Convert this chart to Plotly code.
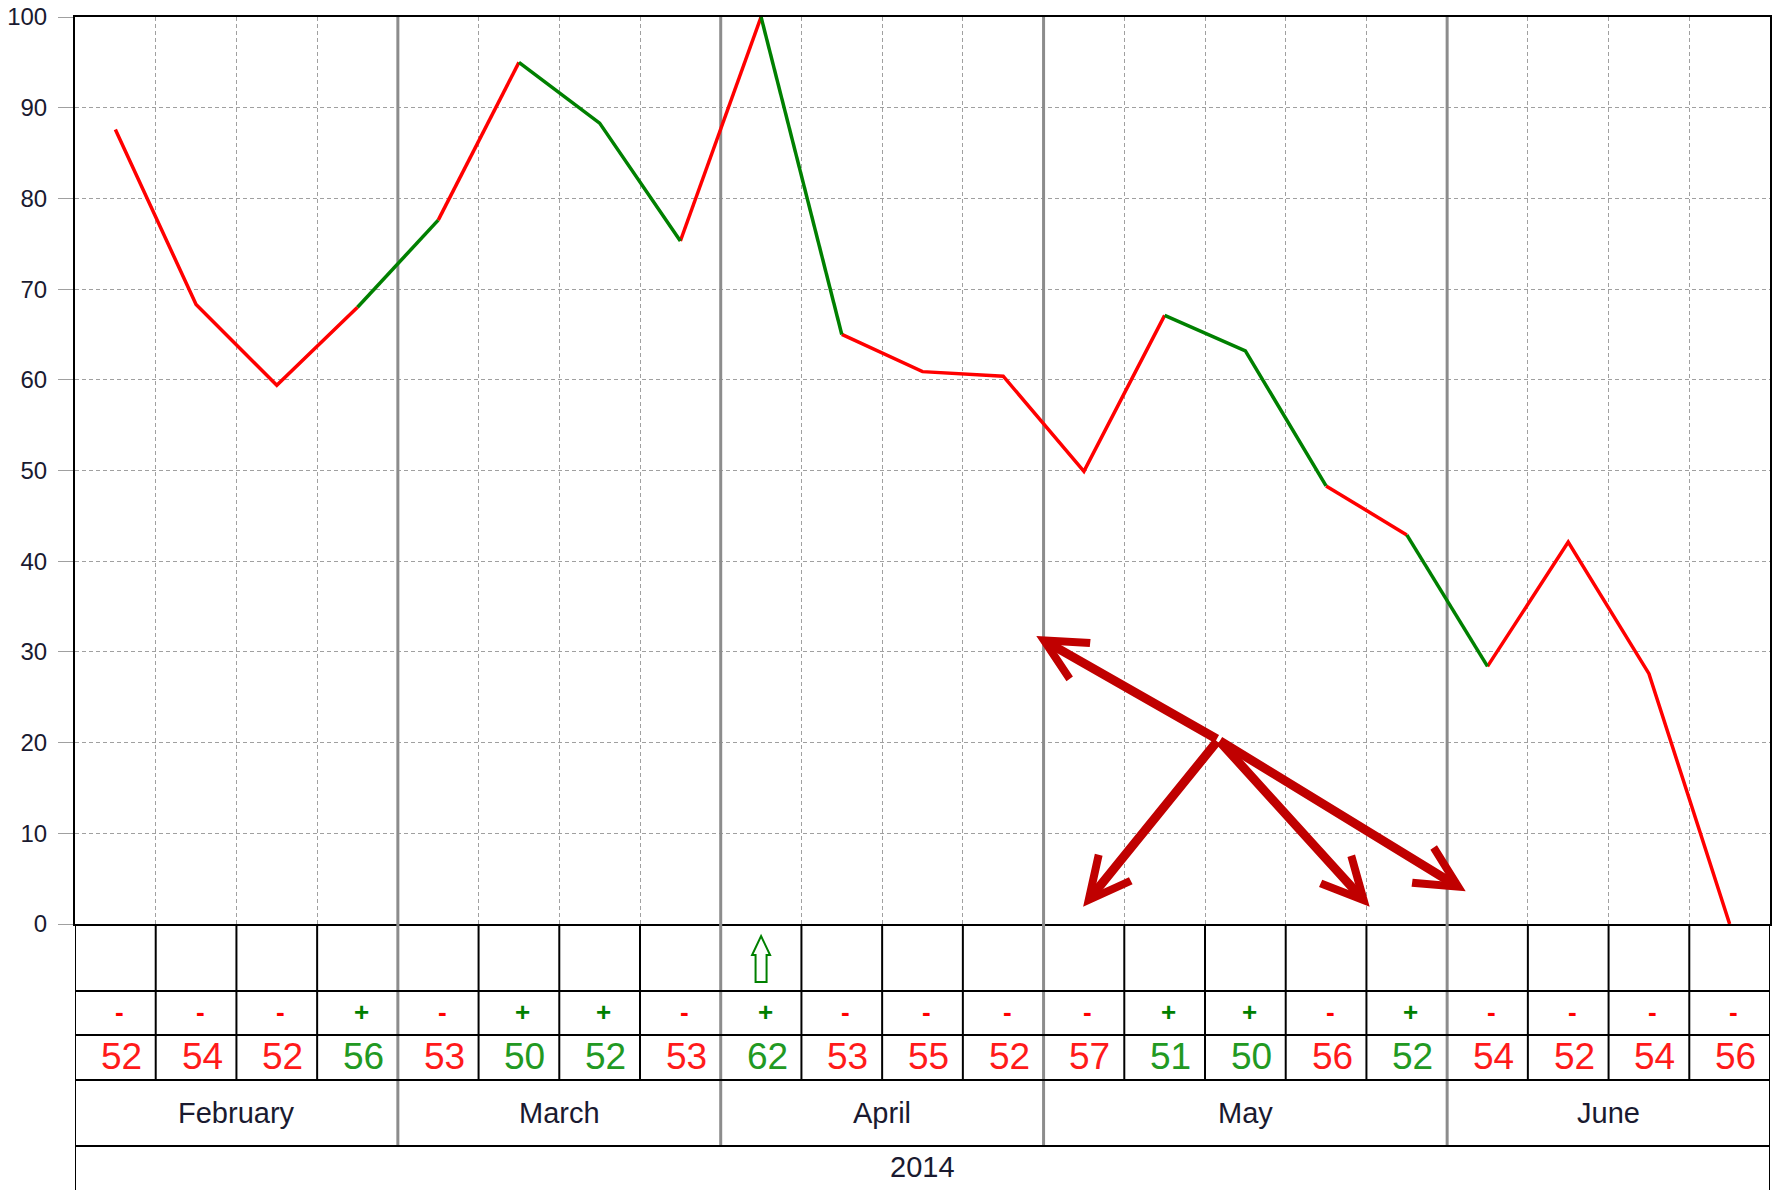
import plotly.graph_objects as go

# ---------------- data ----------------
values = [87.6, 68.3, 59.4, 68.0, 77.6, 95.0, 88.3, 75.3, 100.0, 65.0, 60.9,
          60.4, 49.9, 67.1, 63.2, 48.3, 42.9, 28.4, 42.1, 27.6, 0.0]
signs = ["-", "-", "-", "+", "-", "+", "+", "-", "+", "-", "-",
         "-", "-", "+", "+", "-", "+", "-", "-", "-", "-"]
counts = [52, 54, 52, 56, 53, 50, 52, 53, 62, 53, 55,
          52, 57, 51, 50, 56, 52, 54, 52, 54, 56]
months = ["February", "March", "April", "May", "June"]
month_sizes = [4, 4, 4, 5, 4]
year_label = "2014"
icon_columns = [8]          # columns carrying the up-arrow signal
y_ticks = [0, 10, 20, 30, 40, 50, 60, 70, 80, 90, 100]
arrow_origin = (13.665, 20.3)
arrow_tips = [(11.41, 31.75), (11.99, 1.9), (15.54, 1.9), (16.73, 3.6)]

# ---------------- styles ----------------
RED = "#ff0000"
GREEN = "#008000"
TXT_RED = "#ff1a1a"
TXT_GREEN = "#229922"
GRID = "#a0a0a0"
MONTH_LINE = "#8c8c8c"
ARROW = "#c00000"
FONT = "Arial, Liberation Sans, sans-serif"
INK = "#1a1a30"

W, H = 1779, 1190
ML, MR, MT, MB = 75, 9, 17, 0
PLOT_BOTTOM_PX = 924
table_h = H - PLOT_BOTTOM_PX                      # 266 px of table under the plot
paper_h = H - MT - MB
split = table_h / paper_h
rows = [0, 67, 111, 156, 222, 266]                # table row boundaries (px from plot bottom)

n = len(values)
xs = list(range(n))
col_px = (W - ML - MR) / n

fig = go.Figure()

# ---- coloured line, grouped in runs of equal colour ----
runs = {"+": ([], []), "-": ([], [])}
i = 0
while i < n - 1:
    s = signs[i]
    j = i
    while j + 1 < n - 1 and signs[j + 1] == s:
        j += 1
    rx, ry = runs[s]
    rx.extend(xs[i:j + 2] + [None])
    ry.extend(values[i:j + 2] + [None])
    i = j + 1
for s, col in (("-", RED), ("+", GREEN)):
    fig.add_trace(go.Scatter(x=runs[s][0], y=runs[s][1], mode="lines",
                             line=dict(color=col, width=3.5),
                             hoverinfo="skip", showlegend=False,
                             xaxis="x", yaxis="y"))

# dummy trace for table subplot
fig.add_trace(go.Scatter(x=[None], y=[None], xaxis="x2", yaxis="y2",
                         showlegend=False, hoverinfo="skip"))

# ---- month boundaries ----
bounds = []
acc = 0
for m in month_sizes[:-1]:
    acc += m
    bounds.append(acc - 0.5)

shapes = []
for b in bounds:
    shapes.append(dict(type="line", xref="x", yref="y", x0=b, x1=b, y0=0, y1=100,
                       line=dict(color=MONTH_LINE, width=3), layer="between"))
    shapes.append(dict(type="line", xref="x2", yref="y2", x0=b, x1=b,
                       y0=rows[0], y1=rows[4],
                       line=dict(color=MONTH_LINE, width=3), layer="above"))

# ---- table grid ----
for r in rows[1:5]:
    shapes.append(dict(type="line", xref="x2", yref="y2", x0=-0.5, x1=n - 0.5,
                       y0=r, y1=r, line=dict(color="black", width=2)))
for k in range(1, n):
    b = k - 0.5
    if b in bounds:
        continue
    shapes.append(dict(type="line", xref="x2", yref="y2", x0=b, x1=b,
                       y0=rows[0], y1=rows[3], line=dict(color="black", width=2)))
for b in (-0.5, n - 0.5):
    shapes.append(dict(type="line", xref="x2", yref="y2", x0=b, x1=b,
                       y0=rows[0], y1=rows[5], line=dict(color="black", width=2)))

# ---- up arrow icon(s) ----
hw_head = 9 / col_px
hw_stem = 5.5 / col_px
for c in icon_columns:
    top, base, bot = 12, 31, 58
    path = (f"M{c - hw_stem},{bot} L{c - hw_stem},{base} L{c - hw_head},{base} "
            f"L{c},{top} L{c + hw_head},{base} L{c + hw_stem},{base} "
            f"L{c + hw_stem},{bot} Z")
    shapes.append(dict(type="path", xref="x2", yref="y2", path=path,
                       line=dict(color=GREEN, width=2), fillcolor="white"))

annotations = []
# sign row and count row
for k in range(n):
    pos = signs[k] == "+"
    annotations.append(dict(x=k, y=(rows[1] + rows[2]) / 2 - 1, xref="x2", yref="y2",
                            text=f"<b>{signs[k]}</b>", showarrow=False, xshift=4,
                            font=dict(family=FONT, size=26,
                                      color=GREEN if pos else RED)))
    annotations.append(dict(x=k, y=(rows[2] + rows[3]) / 2 - 1, xref="x2", yref="y2",
                            text=str(counts[k]), showarrow=False, xshift=6,
                            font=dict(family=FONT, size=37,
                                      color=TXT_GREEN if pos else TXT_RED)))
# month row
start = 0
for m, sz in zip(months, month_sizes):
    annotations.append(dict(x=start + sz / 2 - 0.5, y=(rows[3] + rows[4]) / 2,
                            xref="x2", yref="y2", text=m, showarrow=False,
                            font=dict(family=FONT, size=29, color=INK)))
    start += sz
# year row
annotations.append(dict(x=(n - 1) / 2, y=(rows[4] + rows[5]) / 2 - 1, xref="x2", yref="y2",
                        text=year_label, showarrow=False,
                        font=dict(family=FONT, size=29, color=INK)))

# red arrows
for tx, ty in arrow_tips:
    annotations.append(dict(x=tx, y=ty, ax=arrow_origin[0], ay=arrow_origin[1],
                            xref="x", yref="y", axref="x", ayref="y", text="",
                            showarrow=True, arrowhead=5, arrowsize=0.9,
                            arrowwidth=9, arrowcolor=ARROW, standoff=0))

grid_x = [k - 0.5 for k in range(1, n) if (k - 0.5) not in bounds]

fig.update_layout(
    width=W, height=H,
    margin=dict(l=ML, r=MR, t=MT, b=MB, pad=0, autoexpand=False),
    paper_bgcolor="white", plot_bgcolor="white",
    showlegend=False,
    xaxis=dict(domain=[0, 1], range=[-0.5, n - 0.5], tickvals=grid_x,
               showticklabels=False, ticks="", showgrid=True, gridcolor=GRID,
               griddash="4px,3px", gridwidth=1, zeroline=False,
               showline=True, linecolor="black", linewidth=2, mirror=True,
               anchor="y", automargin=False),
    yaxis=dict(domain=[split, 1], range=[0, 100], tickvals=y_ticks,
               showgrid=True, gridcolor=GRID, griddash="4px,3px", gridwidth=1,
               ticks="outside", ticklen=15, tickcolor=GRID, tickwidth=1,
               ticklabelstandoff=6,
               tickfont=dict(family=FONT, size=24, color=INK),
               zeroline=False, showline=True, linecolor="black", linewidth=2,
               mirror=True, anchor="x", automargin=False),
    xaxis2=dict(domain=[0, 1], range=[-0.5, n - 0.5], visible=False,
                showgrid=False, zeroline=False, anchor="y2", automargin=False),
    yaxis2=dict(domain=[0, split], range=[table_h, 0], visible=False,
                showgrid=False, zeroline=False, anchor="x2", automargin=False),
    shapes=shapes,
    annotations=annotations,
)

fig.write_html("out.html",
               config={"displayModeBar": False},
               post_script="document.body.style.margin='0';"
                           "document.body.style.overflow='hidden';")
